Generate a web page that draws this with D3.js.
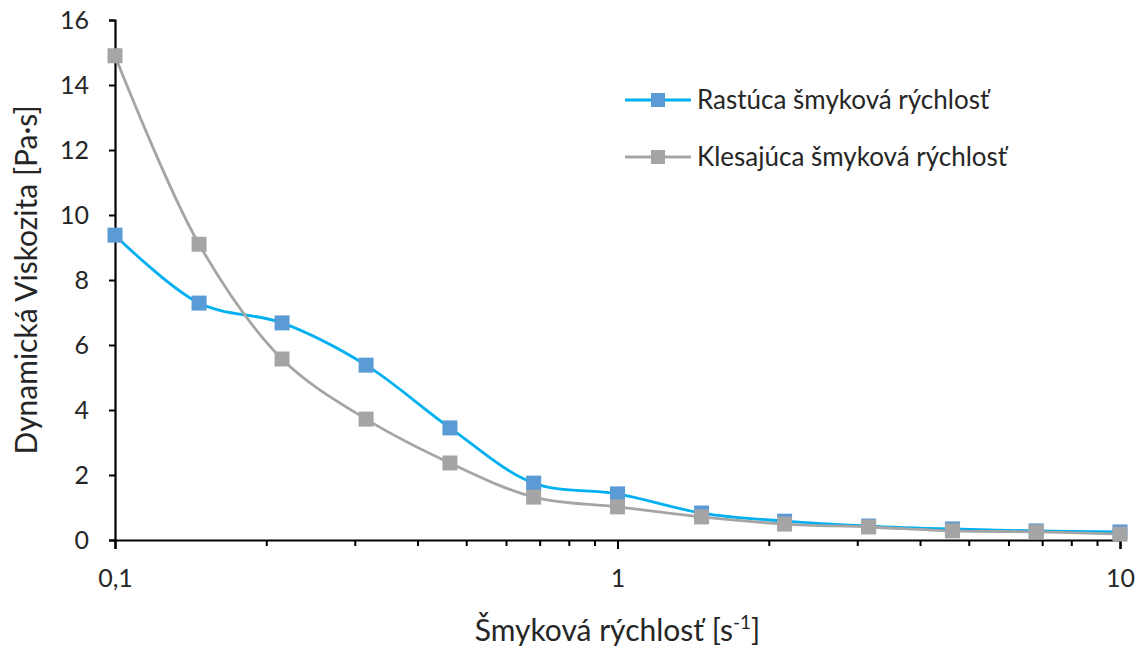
<!DOCTYPE html>
<html>
<head>
<meta charset="utf-8">
<title>Viskozita</title>
<script src="https://cdn.jsdelivr.net/npm/d3@7"></script>
<style>
  body{ margin:0; background:#fff; }
  svg text{ font-family: Lato, "Open Sans", "Liberation Sans", sans-serif; fill:#262626; }
</style>
</head>
<body>
<svg id="chart" width="1145" height="646"></svg>
<script>
// shear rate points (s^-1)
var shearRate = [0.1, 0.147, 0.215, 0.316, 0.464, 0.681, 1, 1.47, 2.15, 3.16, 4.64, 6.81, 10];
var rising  = [9.38, 7.29, 6.68, 5.38, 3.45, 1.75, 1.42, 0.83, 0.58, 0.43, 0.34, 0.28, 0.25];
var falling = [14.9, 9.1, 5.57, 3.72, 2.37, 1.32, 1.02, 0.71, 0.49, 0.40, 0.28, 0.25, 0.18];
var seriesNames = ["Rastúca šmyková rýchlosť", "Klesajúca šmyková rýchlosť"];
var yTicks = [0, 2, 4, 6, 8, 10, 12, 14, 16];
var xTicks = [0.1, 1, 10];
var xTickLabels = ["0,1", "1", "10"];

var margin = {left:115, right:25, top:20, bottom:106},
    width  = 1145 - margin.left - margin.right,
    height = 646 - margin.top - margin.bottom;

var svg = d3.select('#chart');
var g = svg.append('g').attr('transform', 'translate(' + margin.left + ',' + margin.top + ')');

var x = d3.scaleLog().domain([0.1, 10]).range([0, width]);
var y = d3.scaleLinear().domain([0, 16]).range([height, 0]);

// y axis
var yAxis = g.append('g')
    .call(d3.axisLeft(y).tickValues(yTicks).tickSize(6).tickPadding(20).tickFormat(d3.format('d')));
yAxis.select('.domain').attr('stroke', '#000').attr('stroke-width', 2.2);
yAxis.selectAll('.tick line').attr('stroke', '#000').attr('stroke-width', 2);
yAxis.selectAll('.tick text').attr('font-size', 25).style('font-family', 'Lato, sans-serif').attr('fill', '#262626');

// x axis: minor ticks first, then majors with labels
var minor = [];
[0.1, 1].forEach(function(dec){ for(var k = 2; k <= 9; k++) minor.push(dec * k); });

var xMinor = g.append('g').attr('transform', 'translate(0,' + height + ')')
    .call(d3.axisBottom(x).tickValues(minor).tickSize(6).tickFormat(''));
xMinor.select('.domain').remove();
xMinor.selectAll('.tick line').attr('stroke', '#000').attr('stroke-width', 2);

var xAxis = g.append('g').attr('transform', 'translate(0,' + height + ')')
    .call(d3.axisBottom(x).tickValues(xTicks).tickSize(9).tickPadding(20)
        .tickFormat(function(d, i){ return xTickLabels[i]; }));
xAxis.select('.domain').attr('stroke', '#000').attr('stroke-width', 2.2);
xAxis.selectAll('.tick line').attr('stroke', '#000').attr('stroke-width', 2);
xAxis.selectAll('.tick text').attr('font-size', 25).style('font-family', 'Lato, sans-serif').attr('fill', '#262626');

// titles
var xt = svg.append('text')
    .attr('x', margin.left + x(1)).attr('y', 641)
    .attr('text-anchor', 'middle').attr('font-size', 30);
xt.append('tspan').text('Šmyková rýchlosť [s');
xt.append('tspan').attr('font-size', 19).attr('dy', -12).text('-1');
xt.append('tspan').attr('dy', 12).text(']');

svg.append('text')
    .attr('transform', 'translate(37,' + (margin.top + height / 2) + ') rotate(-90)')
    .attr('text-anchor', 'middle').attr('font-size', 30)
    .text('Dynamická Viskozita [Pa·s]');

// series
var series = [
    {name: seriesNames[0], values: rising,  line: '#00b0f0', marker: '#5b9bd5'},
    {name: seriesNames[1], values: falling, line: '#a5a5a5', marker: '#a5a5a5'}
];

var line = d3.line()
    .x(function(d){ return x(d[0]); })
    .y(function(d){ return y(d[1]); })
    .curve(d3.curveCatmullRom.alpha(0.5));

var ms = 15;
series.forEach(function(s){
    var pts = shearRate.map(function(r, i){ return [r, s.values[i]]; });
    g.append('path').datum(pts)
        .attr('fill', 'none').attr('stroke', s.line).attr('stroke-width', 2.8)
        .attr('d', line);
    g.selectAll(null).data(pts).enter().append('rect')
        .attr('x', function(d){ return x(d[0]) - ms / 2; })
        .attr('y', function(d){ return y(d[1]) - ms / 2; })
        .attr('width', ms).attr('height', ms)
        .attr('fill', s.marker);
});

// legend
var legend = svg.append('g').attr('transform', 'translate(625,100)');
series.forEach(function(s, i){
    var row = legend.append('g').attr('transform', 'translate(0,' + (i * 57) + ')');
    row.append('line').attr('x1', 0).attr('x2', 66).attr('y1', 0).attr('y2', 0)
        .attr('stroke', s.line).attr('stroke-width', 2.8);
    row.append('rect').attr('x', 33 - 7).attr('y', -7).attr('width', 14).attr('height', 14)
        .attr('fill', s.marker);
    row.append('text').attr('x', 72).attr('y', 9).attr('font-size', 26).text(s.name);
});
</script>
</body>
</html>
